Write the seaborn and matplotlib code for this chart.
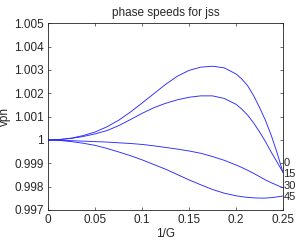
import numpy as np
import pandas as pd
import seaborn as sns
import matplotlib
matplotlib.use("Agg")
import matplotlib.pyplot as plt

# 1/G sample points
inv_g = [0, 0.0125, 0.025, 0.0375, 0.05, 0.0625, 0.075, 0.0875, 0.1, 0.1125,
         0.125, 0.1375, 0.15, 0.1625, 0.175, 0.1875, 0.2, 0.20625, 0.2125,
         0.21875, 0.225, 0.23125, 0.2375, 0.24375, 0.25]

vph_0 = [1.0, 1.00002, 1.00008, 1.00019, 1.00034, 1.00056, 1.00084, 1.00119,
         1.00158, 1.00198, 1.00238, 1.00273, 1.00298, 1.00312, 1.00316,
         1.00309, 1.00283, 1.00261, 1.00232, 1.00190, 1.00140, 1.00085,
         1.00020, 0.99945, 0.99860]
vph_15 = [1.0, 1.00002, 1.00007, 1.00015, 1.00026, 1.00040, 1.00061, 1.00087,
          1.00114, 1.00138, 1.00157, 1.00172, 1.00183, 1.00189, 1.00189,
          1.00178, 1.00153, 1.00132, 1.00106, 1.00073, 1.00035, 0.99994,
          0.99948, 0.99905, 0.99862]
vph_30 = [1.0, 0.99999, 0.99997, 0.99995, 0.99993, 0.99991, 0.99988, 0.99985,
          0.99981, 0.99975, 0.99968, 0.99961, 0.99953, 0.99943, 0.99929,
          0.99913, 0.99893, 0.99882, 0.99870, 0.99857, 0.99843, 0.99829,
          0.99817, 0.99806, 0.99795]
vph_45 = [1.0, 0.99998, 0.99993, 0.99986, 0.99977, 0.99964, 0.99949, 0.99933,
          0.99915, 0.99895, 0.99875, 0.99852, 0.99829, 0.99808, 0.99788,
          0.99772, 0.99761, 0.99757, 0.99754, 0.99752, 0.99751, 0.99751,
          0.99753, 0.99756, 0.99760]

angles = ["0", "15", "30", "45"]
label_y = [0.99902, 0.99854, 0.99804, 0.99755]

x_ticks = [0, 0.05, 0.1, 0.15, 0.2, 0.25]
x_ticklabels = ["0", "0.05", "0.1", "0.15", "0.2", "0.25"]
y_ticks = [0.997, 0.998, 0.999, 1.0, 1.001, 1.002, 1.003, 1.004, 1.005]
y_ticklabels = ["0.997", "0.998", "0.999", "1", "1.001", "1.002", "1.003",
                "1.004", "1.005"]

series = [vph_0, vph_15, vph_30, vph_45]
df = pd.concat(
    [pd.DataFrame({"invG": inv_g, "vph": s, "angle": a})
     for a, s in zip(angles, series)],
    ignore_index=True,
)

sns.set_style("ticks")
plt.rcParams["font.family"] = ["Liberation Sans", "DejaVu Sans"]
plt.rcParams["font.size"] = 8.5

fig = plt.figure(figsize=(3.02, 2.4), dpi=100)
ax = fig.add_axes([0.159, 0.125, 0.778, 0.778])

sns.lineplot(data=df, x="invG", y="vph", hue="angle",
             palette=["#2a2aff"] * 4, legend=False, lw=0.65, ax=ax,
             sort=True, estimator=None)

for a, y in zip(angles, label_y):
    ax.text(0.2503, y, a, ha="left", va="center", fontsize=8)

ax.set_xlim(0, 0.25)
ax.set_ylim(0.997, 1.005)
ax.set_xticks(x_ticks)
ax.set_xticklabels(x_ticklabels)
ax.set_yticks(y_ticks)
ax.set_yticklabels(y_ticklabels)
ax.tick_params(direction="in", length=2.5, width=0.5, top=True, right=True,
               labelsize=8.5, pad=3, color="#333333")
for sp in ax.spines.values():
    sp.set_visible(True)
    sp.set_linewidth(0.6)
    sp.set_color("#222222")

ax.set_title("phase speeds for jss", fontsize=8.5, pad=5)
ax.set_xlabel("1/G", fontsize=8.5, labelpad=1)
ax.set_ylabel("vph", fontsize=8.5, labelpad=2)

fig.savefig("out.png", dpi=100)
